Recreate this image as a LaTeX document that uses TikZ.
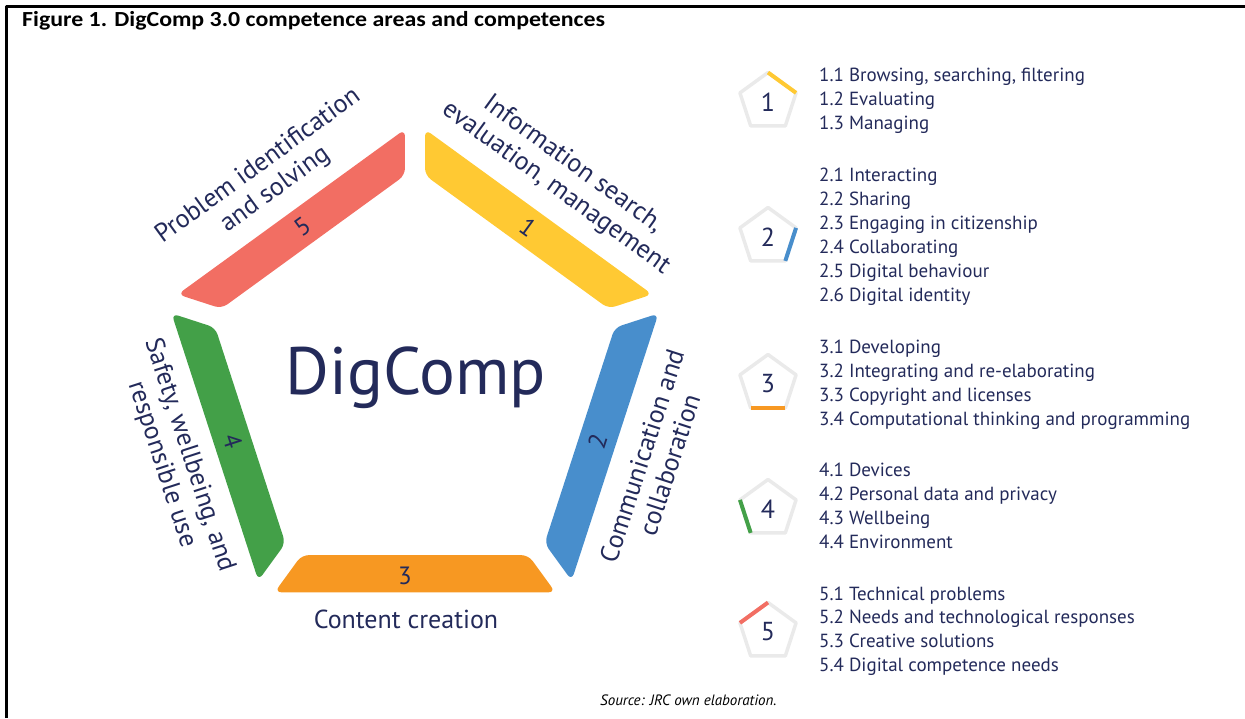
\documentclass[tikz,border=0pt]{standalone}
\usepackage{fontspec}
\setmainfont{PT Sans}
\newfontfamily\titlefont[FakeStretch=1.11]{Carlito}
\usetikzlibrary{calc}

\definecolor{dcnavy}{RGB}{35,42,90}
\definecolor{dcyellow}{RGB}{255,201,51}
\definecolor{dcblue}{RGB}{72,142,204}
\definecolor{dcorange}{RGB}{247,152,34}
\definecolor{dcgreen}{RGB}{67,160,72}
\definecolor{dcred}{RGB}{242,110,99}
\definecolor{dcgrey}{RGB}{234,234,234}

\begin{document}
\begin{tikzpicture}[x=1pt, y=-1pt, line join=round,
    arealabel/.style={text=dcnavy, align=center, font=\fontsize{26}{29}\selectfont},
    areanum/.style={text=dcnavy, font=\fontsize{25}{28}\selectfont},
    item/.style={text=dcnavy, anchor=base west, inner sep=0pt, font=\fontsize{19}{22}\selectfont},
    iconline/.style={dcgrey, line width=3.5pt},
    iconnum/.style={text=dcnavy, font=\fontsize{26}{28}\selectfont}]

  \useasboundingbox (0,0) rectangle (1245,718);

  % Frame and heading
  \draw[line width=2.5pt] (6.5,718) -- (6.5,6.5) -- (1245,6.5);
  \node[anchor=base west, inner sep=0pt, font=\titlefont\bfseries\fontsize{21.5}{25}\selectfont] (title) at (22,26.5)
    {Figure 1. DigComp 3.0 competence areas and competences};

  % The five areas as a split pentagon ring (y pointing up inside)
  \begin{scope}[shift={(415,382)}, y=1pt]
    \pgfmathsetmacro\Rout{260}
    \pgfmathsetmacro\Rin{214}
    \foreach \k in {0,...,4} {
      \coordinate (out-\k) at (90-72*\k:\Rout);
      \coordinate (in-\k) at (90-72*\k:\Rin);
    }
    \foreach \k/\col in {0/dcyellow,1/dcblue,2/dcorange,3/dcgreen,4/dcred} {
      \pgfmathtruncatemacro\n{mod(\k+1,5)}
      \fill[\col, rounded corners=7pt]
        ($(out-\k)!12.4pt!(out-\n)$) -- ($(out-\n)!12.4pt!(out-\k)$) --
        ($(in-\n)!12.4pt!(in-\k)$) -- ($(in-\k)!12.4pt!(in-\n)$) -- cycle;
    }

    % numbers on the bars
    \node[areanum, rotate=-36] (num1) at (54:191.8) {1};
    \node[areanum, rotate=72] (num2) at (-18:191.8) {2};
    \node[areanum] (num3) at (-10,-194) {3};
    \node[areanum, rotate=-72] (num4) at (198:191.8) {4};
    \node[areanum, rotate=36] (num5) at (126:191.8) {5};

    % area names round the outside
    \node[arealabel, rotate=-36] (lab1) at (54:254) {Information search,\\evaluation, management};
    \node[arealabel, rotate=72] (lab2) at (-18:253) {Communication and\\collaboration};
    \node[arealabel, rotate=-72] (lab4) at (198:252) {Safety, wellbeing, and\\responsible use};
    \node[arealabel, rotate=36] (lab5) at (126:252) {Problem identification\\and solving};
  \end{scope}

  \node[arealabel, anchor=base] (lab3) at (406,628) {Content creation};
  \node[text=dcnavy, anchor=base, font=\fontsize{67}{70}\selectfont] (digcomp) at (416,394) {DigComp};

  % Small pentagon keys with the side of each area marked
  \foreach \k/\col/\yc in {1/dcyellow/102, 2/dcblue/237, 3/dcorange/384, 4/dcgreen/509, 5/dcred/632} {
    \begin{scope}[shift={(768,\yc)}, y=1pt]
      \draw[iconline] (90:29.5) -- (18:29.5) -- (-54:29.5) -- (-126:29.5) -- (-198:29.5) -- cycle;
      \draw[\col, line width=4pt] (162-72*\k:29.5) -- (90-72*\k:29.5);
    \end{scope}
    \node[iconnum] (key\k) at (768,\yc) {\k};
  }

  % Competences of each area
  \foreach \txt [count=\k from 0] in {{1.1 Browsing, searching, filtering}, {1.2 Evaluating}, {1.3 Managing}}
    \node[item] (c1-\k) at (819,81+24*\k) {\txt};
  \foreach \txt [count=\k from 0] in {{2.1 Interacting}, {2.2 Sharing}, {2.3 Engaging in citizenship},
      {2.4 Collaborating}, {2.5 Digital behaviour}, {2.6 Digital identity}}
    \node[item] (c2-\k) at (819,181+24*\k) {\txt};
  \foreach \txt [count=\k from 0] in {{3.1 Developing}, {3.2 Integrating and re-elaborating},
      {3.3 Copyright and licenses}, {3.4 Computational thinking and programming}}
    \node[item] (c3-\k) at (819,353+24*\k) {\txt};
  \foreach \txt [count=\k from 0] in {{4.1 Devices}, {4.2 Personal data and privacy}, {4.3 Wellbeing}, {4.4 Environment}}
    \node[item] (c4-\k) at (819,476+24*\k) {\txt};
  \foreach \txt [count=\k from 0] in {{5.1 Technical problems}, {5.2 Needs and technological responses},
      {5.3 Creative solutions}, {5.4 Digital competence needs}}
    \node[item] (c5-\k) at (819,600+23.7*\k) {\txt};

  \node[anchor=base west, inner sep=0pt, font=\itshape\fontsize{15}{18}\selectfont] (source) at (600,705)
    {Source: JRC own elaboration.};
\end{tikzpicture}
\end{document}
